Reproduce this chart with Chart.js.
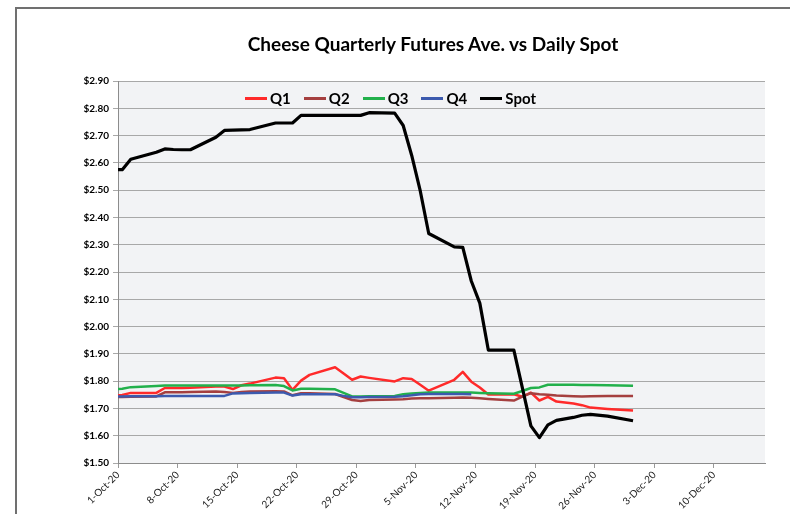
<!DOCTYPE html>
<html><head><meta charset="utf-8">
<script src="https://cdn.jsdelivr.net/npm/chart.js@4.4.0/dist/chart.umd.min.js"></script>
<style>
html,body{margin:0;padding:0;background:#fff;width:790px;height:514px;overflow:hidden;}
#wrap{position:relative;width:790px;height:514px;}
#c{position:absolute;left:0;top:0;}
#frame{position:absolute;left:15px;top:7px;width:800px;height:520px;border-top:2px solid #707070;border-left:2px solid #707070;pointer-events:none;}
#title{position:absolute;left:233px;width:400px;top:32px;text-align:center;font-family:Lato,"Liberation Sans",sans-serif;font-weight:bold;font-size:19px;line-height:24px;color:#000;white-space:nowrap;}
#legend{position:absolute;top:89px;left:245px;display:flex;align-items:center;font-family:Lato,"Liberation Sans",sans-serif;font-weight:bold;font-size:15px;color:#000;pointer-events:none;}
#legend .it{display:flex;align-items:center;margin-right:13px;}
#legend .ln{display:inline-block;width:22px;height:3px;margin-right:3px;}
</style></head>
<body><div id="wrap"><canvas id="c" width="790" height="514"></canvas><div id="frame"></div><div id="title"></div><div id="legend"></div></div>
<script>
const chartTitle = "Cheese Quarterly Futures Ave. vs Daily Spot";
const dates = [
"2020-09-30",
"2020-10-01","2020-10-02","2020-10-05","2020-10-06","2020-10-07","2020-10-08","2020-10-09",
"2020-10-12","2020-10-13","2020-10-14","2020-10-15","2020-10-16",
"2020-10-19","2020-10-20","2020-10-21","2020-10-22","2020-10-23",
"2020-10-26","2020-10-27","2020-10-28","2020-10-29","2020-10-30",
"2020-11-02","2020-11-03","2020-11-04","2020-11-05","2020-11-06",
"2020-11-09","2020-11-10","2020-11-11","2020-11-12","2020-11-13",
"2020-11-16","2020-11-17","2020-11-18","2020-11-19","2020-11-20","2020-11-21",
"2020-11-23","2020-11-24","2020-11-25","2020-11-27","2020-11-30"];

const q1 = [1.747,
1.749,1.757,1.757,1.775,1.775,1.775,1.776,
1.780,1.780,1.771,1.785,1.791,
1.813,1.811,1.768,1.802,1.823,
1.851,1.828,1.805,1.817,1.812,
1.799,1.811,1.808,1.787,1.765,
1.805,1.834,1.798,1.777,1.751,
1.752,1.743,1.758,1.729,1.742,1.725,
1.718,1.712,1.703,1.698,1.692];

const q2 = [1.742,
1.742,1.743,1.744,1.759,1.759,1.759,1.760,
1.762,1.760,1.757,1.760,1.762,
1.763,1.762,1.748,1.756,1.756,
1.753,1.742,1.731,1.727,1.731,
1.733,1.734,1.736,1.737,1.737,
1.739,1.740,1.739,1.737,1.735,
1.729,1.743,1.756,1.752,1.750,1.747,
1.745,1.744,1.745,1.746,1.746];

const q3 = [1.771,
1.772,1.778,1.782,1.784,1.784,1.784,1.784,
1.784,1.784,1.784,1.784,1.785,
1.786,1.782,1.766,1.772,1.772,
1.770,1.757,1.744,1.744,1.745,
1.746,1.752,1.755,1.757,1.758,
1.758,1.758,1.758,1.757,1.756,
1.754,1.764,1.775,1.777,1.787,1.787,
1.787,1.786,1.786,1.785,1.783];

const q4 = [1.743,
1.744,1.745,1.745,1.746,1.746,1.746,1.746,
1.746,1.746,1.755,1.756,1.757,
1.758,1.758,1.747,1.752,1.752,
1.752,1.746,1.741,1.741,1.742,
1.743,1.745,1.748,1.752,1.753,
1.753,1.753,1.752,null,null,
null,null,null,null,null,null,
null,null,null,null,null];

const spot = [2.575,
2.575,2.613,2.639,2.651,2.649,2.648,2.648,
2.694,2.719,2.720,2.721,2.722,
2.746,2.746,2.746,2.774,2.774,
2.774,2.774,2.774,2.774,2.784,
2.782,2.737,2.627,2.498,2.341,
2.292,2.290,2.167,2.086,1.914,
1.914,1.775,1.636,1.593,1.640,1.656,
1.667,1.675,1.678,1.672,1.655];

const seriesNames = ["Q1","Q2","Q3","Q4","Spot"];
const xTickLabels = ["1-Oct-20","8-Oct-20","15-Oct-20","22-Oct-20","29-Oct-20","5-Nov-20","12-Nov-20","19-Nov-20","26-Nov-20","3-Dec-20","10-Dec-20"];
const yTickValues = [1.5,1.6,1.7,1.8,1.9,2.0,2.1,2.2,2.3,2.4,2.5,2.6,2.7,2.8,2.9];
const yTickLabels = ["$1.50","$1.60","$1.70","$1.80","$1.90","$2.00","$2.10","$2.20","$2.30","$2.40","$2.50","$2.60","$2.70","$2.80","$2.90"];

const start = Date.UTC(2020,9,1);
function dayPos(s){ const p=s.split("-"); return (Date.UTC(+p[0],+p[1]-1,+p[2])-start)/86400000 + 0.5; }
function pts(arr){ return dates.map((d,i)=>({x:dayPos(d), y:arr[i]})); }

const colors = ["#FF2A2A","#A53F3F","#22B04B","#3C5AAE","#000000"];
const widths = [2.5,2.5,2.5,2.5,3.2];
const all = [q1,q2,q3,q4,spot];

const datasets = all.map((arr,i)=>({
  label: seriesNames[i], data: pts(arr), borderColor: colors[i], backgroundColor: colors[i],
  borderWidth: widths[i], pointRadius: 0, tension: 0, fill: false, order: 5-i,
  borderJoinStyle: 'round', borderCapStyle: 'butt', spanGaps: false
}));

const bgPlugin = { id:'bg', beforeDraw(chart){ const a=chart.chartArea, c=chart.ctx; c.save(); c.fillStyle='#F2F3F5'; c.fillRect(a.left,a.top,a.right-a.left,a.bottom-a.top); c.restore(); } };

const chart = new Chart(document.getElementById('c'), {
  type: 'line',
  data: { datasets },
  plugins: [bgPlugin],
  options: {
    responsive: false, animation: false, devicePixelRatio: 1,
    layout: { padding: { left: 0, right: 25, top: 81, bottom: 0 } },
    plugins: {
      legend: { display: false },
      tooltip: { enabled: false },
      title: { display: false }
    },
    scales: {
      x: { type: 'linear', min: 0, max: 76,
        afterBuildTicks: s => { s.ticks = xTickLabels.map((_,i)=>({value:i*7})); },
        afterFit: s => { s.height = 51; },
        ticks: { autoSkip: false, minRotation: 45, maxRotation: 45, padding: 1,
          font: { family: 'Lato', size: 10 }, color: '#222',
          callback: (v,i) => xTickLabels[i] },
        grid: { drawOnChartArea: false, drawTicks: true, tickLength: 5, color: '#9a9a9a' },
        border: { display: true, color: '#8c8c8c', width: 1 }
      },
      y: { min: 1.5, max: 2.9,
        afterBuildTicks: s => { s.ticks = yTickValues.map(v=>({value:v})); },
        afterFit: s => { s.width = 118; },
        ticks: { padding: 4, font: { family: 'Lato', size: 10, weight: 'bold' }, color: '#000',
          callback: (v,i) => yTickLabels[i] },
        grid: { color: '#a8a8a8', lineWidth: 1, tickLength: 5, drawTicks: true },
        border: { display: true, color: '#8c8c8c', width: 1 }
      }
    }
  }
});

document.getElementById('title').textContent = chartTitle;
const lg = document.getElementById('legend');
datasets.forEach(ds => {
  const it = document.createElement('div'); it.className='it';
  const ln = document.createElement('span'); ln.className='ln'; ln.style.background=ds.borderColor;
  const tx = document.createElement('span'); tx.textContent = ds.label;
  it.appendChild(ln); it.appendChild(tx); lg.appendChild(it);
});
</script></body></html>
